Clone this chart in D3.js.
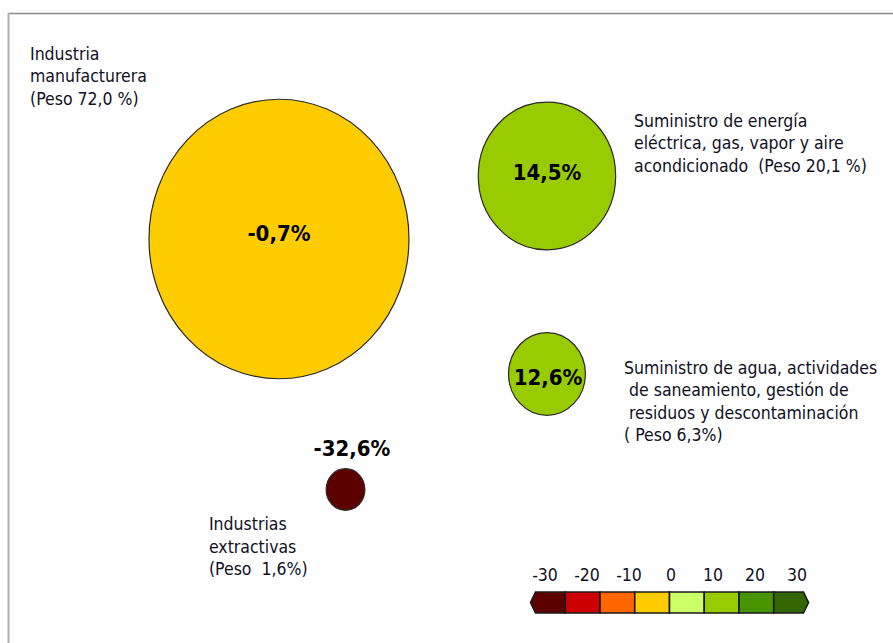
<!DOCTYPE html>
<html>
<head>
<meta charset="utf-8">
<script src="https://cdn.jsdelivr.net/npm/d3@7"></script>
<style>
  html, body { margin: 0; padding: 0; background: #fff; }
  svg { display: block; }
</style>
</head>
<body>
<svg id="chart" width="893" height="643"></svg>
<script>
// ---- data ----
const sectors = [
  "Industria manufacturera",
  "Suministro de energía eléctrica, gas, vapor y aire acondicionado",
  "Suministro de agua, actividades de saneamiento, gestión de residuos y descontaminación",
  "Industrias extractivas"
];
const weights = [72.0, 20.1, 6.3, 1.6];          // Peso %
const growth  = [-0.7, 14.5, 12.6, -32.6];       // variación %
const growthLabels = ["-0,7%", "14,5%", "12,6%", "-32,6%"];
const nameLines = [
  ["Industria", "manufacturera", "(Peso 72,0 %)"],
  ["Suministro de energía", "eléctrica, gas, vapor y aire", "acondicionado  (Peso 20,1 %)"],
  ["Suministro de agua, actividades", " de saneamiento, gestión de", " residuos y descontaminación", "( Peso 6,3%)"],
  ["Industrias", "extractivas", "(Peso  1,6%)"]
];
const legendThresholds = [-30, -20, -10, 0, 10, 20, 30];
const legendTickLabels = ["-30", "-20", "-10", "0", "10", "20", "30"];
const legendColors = ["#5c0000", "#cc0000", "#ff6600", "#ffcc00", "#ccff66", "#99cc00", "#479300", "#336600"];

const svg = d3.select("#chart");
const W = 893, H = 643;
const fontReg = "'DejaVu Sans Condensed', 'DejaVu Sans', Verdana, sans-serif";
const textColor = "#10101e";

// frame
svg.append("line").attr("x1", 8).attr("x2", W).attr("y1", 13.5).attr("y2", 13.5)
  .attr("stroke", "#8a8a8a").attr("stroke-width", 1.5);
svg.append("line").attr("x1", 8.5).attr("x2", 8.5).attr("y1", 13).attr("y2", H)
  .attr("stroke", "#b0b0b0").attr("stroke-width", 2);

// free layout: relative placement (% of page) of each bubble and its texts
const px = d3.scaleLinear().domain([0, 100]).range([0, W]);
const py = d3.scaleLinear().domain([0, 100]).range([0, H]);
const centers  = [[31.24, 37.17], [61.25, 27.37], [61.25, 58.16], [38.69, 76.13]];
const labelPos = [[3.36, 9.33], [71.0, 19.75], [69.88, 58.16], [23.40, 82.43]];
const valuePos = [[31.24, 36.55], [61.25, 27.06], [61.37, 58.94], [39.42, 69.98]];

const rScale = d3.scaleSqrt().domain([0, 72]).range([0, 130]);
const aspect = 1.075;
const color = d3.scaleThreshold().domain(legendThresholds).range(legendColors);

const data = sectors.map((s, i) => ({
  name: s, w: weights[i], g: growth[i], gl: growthLabels[i], lines: nameLines[i],
  cx: px(centers[i][0]), cy: py(centers[i][1]),
  lx: px(labelPos[i][0]), ly: py(labelPos[i][1]),
  vx: px(valuePos[i][0]), vy: py(valuePos[i][1])
}));

// bubbles
svg.append("g").selectAll("ellipse").data(data).join("ellipse")
  .attr("cx", d => d.cx).attr("cy", d => d.cy)
  .attr("rx", d => rScale(d.w)).attr("ry", d => rScale(d.w) * aspect)
  .attr("fill", d => color(d.g))
  .attr("stroke", "#2a2a2a").attr("stroke-width", 1.2);

// value labels
svg.append("g").selectAll("text").data(data).join("text")
  .attr("x", d => d.vx).attr("y", d => d.vy)
  .attr("text-anchor", "middle").attr("dominant-baseline", "middle")
  .attr("font-family", fontReg).attr("font-weight", "bold").attr("font-size", 22)
  .attr("fill", "#000")
  .text(d => d.gl);

// category labels
const lab = svg.append("g").selectAll("text").data(data).join("text")
  .attr("x", d => d.lx).attr("y", d => d.ly)
  .attr("font-family", fontReg).attr("font-size", 17.5).attr("fill", textColor)
  .attr("xml:space", "preserve").style("white-space", "pre");
lab.selectAll("tspan").data(d => d.lines.map((t, k) => ({ t, k, x: d.lx }))).join("tspan")
  .attr("x", t => t.x).attr("dy", t => t.k === 0 ? 0 : 22.5)
  .text(t => t.t);

// legend
const lx = d3.scaleLinear().domain([-40, 40]).range([530.5, 808.5]);
const lTick = d3.scaleLinear().domain([-30, 30]).range([545, 797]);
const ly0 = 592, lh = 21, tip = 5;
const lg = svg.append("g");
const bounds = [-40].concat(legendThresholds).concat([40]);
const cells = legendColors.map((c, i) => ({ c, a: bounds[i], b: bounds[i + 1], i }));
lg.selectAll("path").data(cells).join("path")
  .attr("d", d => {
    const x0 = lx(d.a), x1 = lx(d.b), y0 = ly0, y1 = ly0 + lh, ym = ly0 + lh / 2;
    if (d.i === 0) return `M${x0},${ym}L${x0 + tip},${y0}L${x1},${y0}L${x1},${y1}L${x0 + tip},${y1}Z`;
    if (d.i === cells.length - 1) return `M${x0},${y0}L${x1 - tip},${y0}L${x1},${ym}L${x1 - tip},${y1}L${x0},${y1}Z`;
    return `M${x0},${y0}L${x1},${y0}L${x1},${y1}L${x0},${y1}Z`;
  })
  .attr("fill", d => d.c).attr("stroke", "#1a1a1a").attr("stroke-width", 1.6)
  .attr("stroke-linejoin", "miter");

lg.selectAll("text").data(legendThresholds).join("text")
  .attr("x", d => lTick(d)).attr("y", 581)
  .attr("text-anchor", "middle")
  .attr("font-family", fontReg).attr("font-size", 17.5).attr("fill", textColor)
  .text((d, i) => legendTickLabels[i]);
</script>
</body>
</html>
